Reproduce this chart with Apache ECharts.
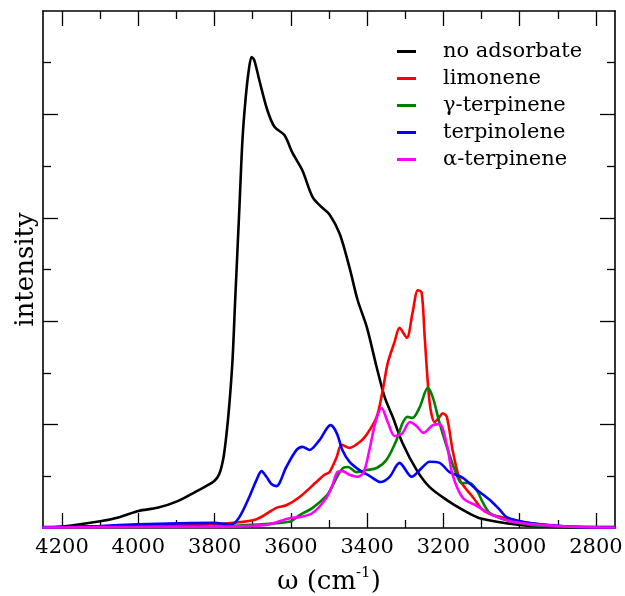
<!DOCTYPE html>
<html>
<head>
<meta charset="utf-8">
<script src="https://cdn.jsdelivr.net/npm/echarts@6/dist/echarts.min.js"></script>
<style>
html,body{margin:0;padding:0;background:#fff;}
#chart{width:625px;height:596px;}
</style>
</head>
<body>
<div id="chart"></div>
<script>
// [omega (cm^-1), intensity]
const noAdsorbate = [
  [4252,0.002],[4200,0.003],[4100,0.013],[4050,0.021],[4000,0.033],[3950,0.039],[3900,0.051],
  [3850,0.070],[3827,0.079],[3801,0.091],[3788,0.104],[3777,0.135],[3769,0.180],[3761,0.242],
  [3753,0.325],[3746,0.441],[3735,0.619],[3727,0.750],[3719,0.828],[3711,0.882],[3703,0.911],
  [3696,0.905],[3683,0.867],[3662,0.809],[3643,0.776],[3617,0.760],[3596,0.726],[3570,0.692],
  [3543,0.640],[3520,0.621],[3499,0.607],[3472,0.569],[3446,0.503],[3425,0.441],[3401,0.389],
  [3375,0.311],[3354,0.253],[3333,0.215],[3307,0.164],[3270,0.112],[3236,0.079],[3191,0.054],
  [3149,0.035],[3105,0.019],[2999,0.006],[2902,0.002],[2750,0.001]
];
const limonene = [
  [4252,0.001],[4103,0.002],[3945,0.005],[3840,0.006],[3753,0.010],[3690,0.017],[3638,0.039],
  [3612,0.044],[3577,0.060],[3533,0.089],[3512,0.103],[3499,0.108],[3480,0.137],[3467,0.161],
  [3446,0.155],[3420,0.166],[3402,0.180],[3375,0.215],[3359,0.267],[3346,0.319],[3328,0.360],
  [3315,0.387],[3296,0.368],[3281,0.416],[3267,0.460],[3257,0.455],[3249,0.369],[3236,0.242],
  [3223,0.205],[3210,0.215],[3202,0.222],[3191,0.215],[3176,0.151],[3157,0.093],[3139,0.074],
  [3123,0.060],[3097,0.035],[3071,0.025],[3034,0.019],[2981,0.010],[2902,0.004],[2750,0.002]
];
const gammaTerpinene = [
  [4252,0.001],[3971,0.002],[3840,0.002],[3709,0.006],[3604,0.012],[3577,0.025],[3543,0.039],
  [3507,0.062],[3493,0.078],[3478,0.100],[3463,0.116],[3450,0.118],[3428,0.108],[3402,0.112],
  [3375,0.116],[3349,0.132],[3323,0.170],[3307,0.203],[3294,0.215],[3281,0.213],[3262,0.234],
  [3241,0.271],[3228,0.253],[3210,0.203],[3191,0.157],[3170,0.112],[3152,0.087],[3131,0.087],
  [3113,0.074],[3097,0.050],[3078,0.029],[3034,0.015],[2973,0.006],[2902,0.003],[2750,0.002]
];
const terpinolene = [
  [4252,0.001],[4100,0.004],[4000,0.007],[3893,0.009],[3801,0.010],[3774,0.008],[3756,0.007],
  [3735,0.021],[3709,0.060],[3690,0.093],[3677,0.110],[3664,0.099],[3651,0.085],[3638,0.081],
  [3612,0.118],[3585,0.151],[3570,0.157],[3551,0.151],[3525,0.170],[3496,0.199],[3480,0.184],
  [3465,0.151],[3446,0.128],[3420,0.112],[3394,0.101],[3365,0.089],[3341,0.099],[3315,0.126],
  [3283,0.099],[3262,0.112],[3236,0.128],[3210,0.126],[3184,0.108],[3149,0.097],[3113,0.074],
  [3078,0.054],[3052,0.035],[3034,0.021],[2992,0.012],[2929,0.006],[2860,0.002],[2750,0.001]
];
const alphaTerpinene = [
  [4252,0.001],[3971,0.002],[3840,0.002],[3664,0.006],[3604,0.019],[3577,0.021],[3543,0.029],
  [3507,0.058],[3491,0.083],[3478,0.108],[3465,0.110],[3446,0.103],[3425,0.099],[3409,0.108],
  [3394,0.151],[3378,0.205],[3362,0.232],[3346,0.205],[3328,0.178],[3309,0.182],[3288,0.205],
  [3270,0.197],[3252,0.184],[3228,0.199],[3210,0.201],[3191,0.161],[3176,0.103],[3149,0.058],
  [3113,0.043],[3071,0.025],[3018,0.012],[2947,0.006],[2842,0.002],[2750,0.001]
];
const seriesNames = ['no adsorbate','limonene','γ-terpinene','terpinolene','α-terpinene'];
const seriesColors = ['#000000','#ff0000','#008000','#0000ff','#ff00ff'];
const seriesData = [noAdsorbate, limonene, gammaTerpinene, terpinolene, alphaTerpinene];

const xMajorTicks = [2800,3000,3200,3400,3600,3800,4000,4200];
const xMinorTicks = [2900,3100,3300,3500,3700,3900,4100];
const yMajorTicks = [0.2,0.4,0.6,0.8];
const yMinorTicks = [0.1,0.3,0.5,0.7,0.9];

const FONT = 'DejaVu Serif';
const X_MIN = 2750, X_MAX = 4250;

function xAx(pos, ticks, len, showLine, showLabel, name) {
  const a = {
    type: 'value', position: pos, inverse: true, min: X_MIN, max: X_MAX,
    splitLine: {show: false},
    axisLine: {show: showLine, onZero: false, lineStyle: {color: '#000', width: 1.6}},
    axisTick: {show: true, inside: true, length: len, customValues: ticks, lineStyle: {color: '#000', width: 1.3}},
    axisLabel: {show: showLabel, customValues: ticks, formatter: v => String(v),
      fontFamily: FONT, fontSize: 21, color: '#000', margin: 9}
  };
  if (name) {
    a.name = name;
    a.nameLocation = 'middle';
    a.nameGap = 38;
    a.nameTextStyle = {fontFamily: FONT, fontSize: 26, color: '#000',
      rich: {sup: {fontFamily: FONT, fontSize: 15, color: '#000', verticalAlign: 'top', padding: [0,0,18,0]}}};
  }
  return a;
}
function yAx(pos, ticks, len, showLine, name) {
  const a = {
    type: 'value', position: pos, min: 0, max: 1,
    splitLine: {show: false},
    axisLine: {show: showLine, onZero: false, lineStyle: {color: '#000', width: 1.6}},
    axisTick: {show: true, inside: true, length: len, customValues: ticks, lineStyle: {color: '#000', width: 1.3}},
    axisLabel: {show: false}
  };
  if (name) {
    a.name = name;
    a.nameLocation = 'middle';
    a.nameGap = 4;
    a.nameRotate = 90;
    a.nameTextStyle = {fontFamily: FONT, fontSize: 26, color: '#000', verticalAlign: 'bottom'};
  }
  return a;
}

const chart = echarts.init(document.getElementById('chart'), null, {renderer: 'canvas'});
chart.setOption({
  animation: false,
  backgroundColor: '#fff',
  grid: {left: 43, right: 10, top: 11, bottom: 68, containLabel: false, outerBoundsMode: 'none'},
  xAxis: [
    xAx('bottom', xMajorTicks, 15, true, true, 'ω (cm{sup|-1})'),
    xAx('bottom', xMinorTicks, 8, false, false),
    xAx('top', xMajorTicks, 15, true, false),
    xAx('top', xMinorTicks, 8, false, false)
  ],
  yAxis: [
    yAx('left', yMajorTicks, 15, true, 'intensity'),
    yAx('left', yMinorTicks, 8, false),
    yAx('right', yMajorTicks, 15, true),
    yAx('right', yMinorTicks, 8, false)
  ],
  legend: {
    orient: 'vertical', left: 397, top: 41, padding: 0, itemWidth: 19, itemHeight: 3, itemGap: 6,
    icon: 'rect',
    textStyle: {fontFamily: FONT, fontSize: 21, color: '#000', lineHeight: 21, padding: [0,0,0,22]},
    data: seriesNames
  },
  series: seriesNames.map((n, i) => ({
    name: n, type: 'line', xAxisIndex: 0, yAxisIndex: 0,
    data: seriesData[i], smooth: 0.3, showSymbol: false, symbol: 'none',
    color: seriesColors[i],
    lineStyle: {color: seriesColors[i], width: 2.6},
    z: 2 + i
  }))
});
</script>
</body>
</html>
